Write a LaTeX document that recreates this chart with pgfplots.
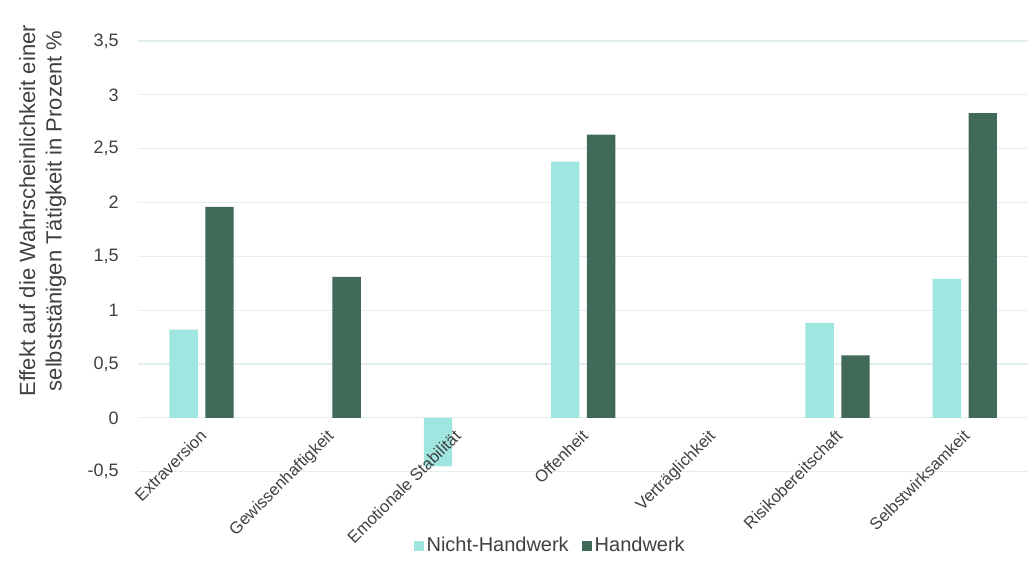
\documentclass[border=0pt]{standalone}
\usepackage{pgfplots}
\pgfplotsset{compat=1.18}
\usepackage{fontspec}
\setmainfont{Liberation Sans}
\definecolor{hell}{HTML}{A0E6E0}
\definecolor{dunkel}{HTML}{416B58}
\definecolor{gitter}{HTML}{E2EFED}
\definecolor{schrift}{HTML}{404040}
% Beschriftungen ueber den Balken, Gitter darunter
\pgfplotsset{
    layers/labels on top/.define layer set={
        axis background,axis grid,pre main,main,axis ticks,axis lines,axis tick labels,axis descriptions,axis foreground
    }{
        grid style={/pgfplots/on layer=axis grid},
        tick style={/pgfplots/on layer=axis ticks},
        axis line style={/pgfplots/on layer=axis lines},
        label style={/pgfplots/on layer=axis descriptions},
        legend style={/pgfplots/on layer=axis descriptions},
        title style={/pgfplots/on layer=axis descriptions},
        ticklabel style={/pgfplots/on layer=axis tick labels},
        axis background@ style={/pgfplots/on layer=axis background},
    },
}
\begin{document}
\begin{tikzpicture}
\begin{axis}[
    set layers=labels on top,
    scale only axis,
    width=668.25pt, height=323.25pt,
    at={(0,0)}, anchor=south west,
    ybar,
    ymin=-0.5, ymax=3.5,
    xmin=-0.5, xmax=6.5,
    ytick={-0.5,0,0.5,1,1.5,2,2.5,3,3.5},
    xtick={0,1,2,3,4,5,6},
    xticklabels={Extraversion,Gewissenhaftigkeit,Emotionale Stabilität,Offenheit,Verträglichkeit,Risikobereitschaft,Selbstwirksamkeit},
    axis line style={draw=none},
    major tick length=0pt,
    ymajorgrids,
    grid style={gitter, line width=0.9pt},
    bar width=0.223,
    /pgf/number format/use comma,
    /pgf/number format/assume math mode=true,
    yticklabel style={font=\fontsize{13.5}{16}\selectfont, text=schrift, xshift=-11pt},
    xticklabel style={font=\fontsize{12.5}{15}\selectfont, text=schrift, yshift=34pt, xshift=-2pt, rotate=45, anchor=north east, inner sep=1pt},
    ylabel={Effekt auf die Wahrscheinlichkeit einer\\selbststänigen Tätigkeit in Prozent \%},
    ylabel style={font=\fontsize{16.5}{20}\selectfont, text=schrift, align=center, at={(axis description cs:-0.107,0.6056)}, anchor=center},
    legend style={draw=none, fill=none, at={(axis description cs:0.4635,-0.1717)}, anchor=center,
        font=\fontsize{15}{18}\selectfont, text=schrift, /tikz/every even column/.append style={column sep=8pt}},
    legend columns=-1,
    legend image code/.code={\fill[#1] (0pt,-3.75pt) rectangle (7.5pt,3.75pt);},
]
\addplot[fill=hell, draw=none, bar shift=-0.141] coordinates {
    (0,0.82) (2,-0.45) (3,2.38) (5,0.88) (6,1.29)};
\addlegendentry{Nicht-Handwerk}
\addplot[fill=dunkel, draw=none, bar shift=0.141] coordinates {
    (0,1.96) (1,1.31) (3,2.63) (5,0.58) (6,2.83)};
\addlegendentry{Handwerk}
\end{axis}
\path[use as bounding box] (-103.5pt,-76.5pt) rectangle (668.25pt,354pt);
\end{tikzpicture}
\end{document}
